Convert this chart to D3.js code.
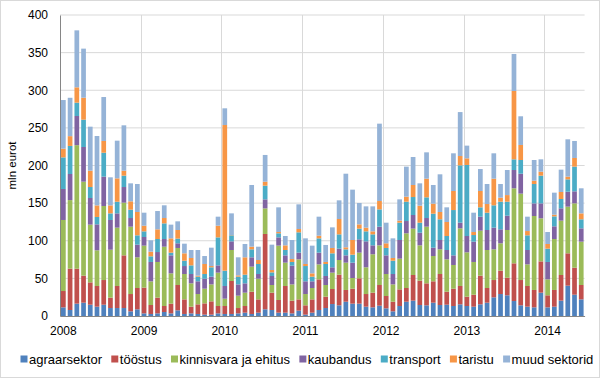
<!DOCTYPE html>
<html>
<head>
<meta charset="utf-8">
<script src="https://cdn.jsdelivr.net/npm/d3@7"></script>
<style>
  body { margin: 0; background: #fff; }
  svg { display: block; font-family: "Liberation Sans", Arial, sans-serif; }
</style>
</head>
<body>
<div id="container"></div>
<script>
// andmed (mln eurot), jaanuar 2008 – juuni 2014
const years = ["2008", "2009", "2010", "2011", "2012", "2013", "2014"];
const seriesNames = ["agraarsektor", "tööstus", "kinnisvara ja ehitus", "kaubandus", "transport", "taristu", "muud sektorid"];
const colors = ["#4F81BD", "#C0504D", "#9BBB59", "#8064A2", "#4BACC6", "#F79646", "#95B3D7"];
const yTicks = [0, 50, 100, 150, 200, 250, 300, 350, 400];

const agraarsektor = [11.5,8.0,16.4,17.7,15.0,12.4,15.0,10.6,10.6,10.6,6.2,8.9, 3.5,2.7,3.5,5.3,3.5,7.5,2.7,3.5,2.7,1.8,1.8,3.5, 2.7,2.7,3.5,4.4,2.7,4.4,8.9,8.0,4.4,4.4,3.5,7.1, 1.8,4.4,8.0,10.6,15.9,14.2,19.0,16.4,16.4,12.4,11.5,13.7, 10.2,6.2,13.3,19.0,20.4,14.6,14.2,17.7,14.6,15.0,13.3,15.5, 13.3,12.4,15.5,17.7,24.8,29.2,27.5,19.9,14.2,12.4,11.5,31.0, 11.5,12.4,20.4,40.3,28.3,22.1];
const toostus = [21.7,54.9,46.5,35.9,29.7,27.5,32.8,13.8,29.3,70.0,23.0,28.3, 34.2,11.9,20.9,8.0,12.9,33.7,19.4,8.9,12.8,15.0,17.7,9.8, 10.6,43.8,7.1,8.9,29.6,17.7,100.1,23.0,16.9,35.5,16.9,15.0, 12.4,17.7,40.7,15.1,20.0,40.7,15.6,19.9,33.7,16.8,19.5,27.5, 16.4,12.8,22.1,18.2,34.1,32.4,29.2,28.4,41.2,17.3,23.0,24.4, 12.4,15.9,38.1,19.5,23.0,31.0,23.4,50.1,33.6,27.5,23.1,41.6, 16.0,22.2,34.1,43.0,35.9,19.1];
const kinnisvara = [94.4,91.1,164.1,124.9,76.7,47.4,98.4,63.7,77.5,70.0,89.5,40.8, 55.8,31.4,47.4,78.8,40.3,49.2,33.7,31.0,13.7,19.5,22.5,44.3, 9.7,41.2,16.4,17.7,33.3,27.5,34.0,10.2,72.2,31.0,21.6,53.2, 15.0,15.1,19.9,15.5,21.7,19.5,36.3,14.2,34.1,35.5,51.0,52.7, 29.2,23.0,40.8,72.7,61.6,46.9,75.3,33.6,32.8,43.0,31.5,76.6, 58.9,43.5,59.8,50.5,40.8,36.4,63.4,99.7,114.8,28.7,98.3,57.2, 21.2,67.7,72.2,62.0,85.5,57.6];
const kaubandus = [41.2,34.7,38.8,46.1,35.4,34.5,39.0,39.5,19.0,20.8,11.5,16.8, 11.5,25.8,13.2,10.2,23.9,6.2,10.6,12.4,16.9,13.3,10.3,9.7, 16.9,11.5,15.0,12.4,12.4,6.2,12.0,12.0,11.0,9.7,24.9,8.9, 16.9,8.9,15.6,12.0,7.1,15.1,9.7,20.4,17.7,34.5,11.9,24.8, 24.8,13.8,24.8,16.3,18.1,16.8,11.5,11.1,12.4,12.4,12.8,7.5, 21.7,27.0,18.6,26.6,28.8,18.6,19.0,24.3,26.5,19.1,16.8,19.9, 23.1,16.9,16.4,19.9,16.0,17.7];
const transport = [42.0,37.3,17.7,36.3,14.6,9.8,31.8,8.8,15.5,15.1,11.1,12.4, 7.5,7.5,17.3,20.8,3.6,6.2,7.1,11.5,6.2,6.2,12.4,37.2, 20.3,8.0,10.3,11.5,10.6,13.3,18.2,4.8,5.4,7.1,4.9,27.0, 20.3,6.2,19.0,15.9,18.6,19.0,8.0,10.6,14.2,13.3,14.6,23.0, 9.8,17.7,23.0,25.7,23.9,13.3,27.5,45.2,27.5,18.6,60.2,76.2, 94.4,8.8,12.4,23.0,29.7,36.7,18.6,14.2,18.2,19.5,25.7,36.8, 17.7,13.2,12.4,16.4,32.8,12.0];
const taristu = [11.6,13.0,20.4,29.2,21.7,15.4,15.6,10.6,31.0,6.6,11.1,31.0, 7.5,6.2,12.9,7.1,19.0,11.5,9.8,9.8,1.3,13.3,1.7,15.5, 193.6,0.4,1.7,23.1,3.5,5.3,5.3,3.1,1.7,6.2,3.9,4.4, 2.7,4.4,3.5,2.7,7.1,20.4,2.7,19.5,5.7,4.9,4.0,11.1, 6.2,3.6,2.7,6.7,16.0,22.6,24.8,13.3,9.7,18.6,25.3,12.4, 8.8,4.0,21.7,11.5,35.4,5.4,8.8,90.8,20.0,5.7,4.4,5.3, 6.2,2.2,9.3,3.6,11.5,7.9];
const muud = [64.6,51.0,75.7,65.2,58.5,92.2,58.4,37.3,50.1,60.3,23.9,37.2, 17.3,15.1,24.3,16.9,18.2,11.5,12.8,10.6,34.1,10.6,24.4,12.0, 22.2,28.8,24.0,17.7,82.0,17.7,35.5,33.7,32.8,12.4,25.3,32.8, 34.1,36.8,25.3,22.6,27.4,24.8,97.8,66.9,28.4,28.3,33.2,102.8, 27.4,26.1,28.3,39.9,37.2,29.7,35.0,24.8,50.1,19.5,50.1,58.4, 16.9,25.7,29.2,26.6,33.7,18.1,33.3,49.2,38.1,19.1,27.5,16.4, 15.9,29.3,29.7,49.6,22.6,33.3];

const seriesValues = [agraarsektor, toostus, kinnisvara, kaubandus, transport, taristu, muud];

// mõõdud
const width = 600, height = 378;
const marginTop = 15, marginRight = 15.4, marginBottom = 62, marginLeft = 60;

// kuud: "2008-01" ... "2014-06"
const months = d3.range(agraarsektor.length).map(
  (i) => `${years[Math.floor(i / 12)]}-${String((i % 12) + 1).padStart(2, "0")}`
);

const table = months.map((m, i) => {
  const row = { month: m };
  seriesNames.forEach((s, k) => (row[s] = seriesValues[k][i]));
  return row;
});

const stacked = d3.stack().keys(seriesNames)(table);

const svg = d3.select("#container").append("svg")
  .attr("width", width)
  .attr("height", height)
  .attr("viewBox", [0, 0, width, height]);

// välimine raam
svg.append("rect")
  .attr("x", 0.5).attr("y", 0.5)
  .attr("width", width - 1).attr("height", height - 1)
  .attr("fill", "#fff")
  .attr("stroke", "#d9d9d9");

const xScale = d3.scaleBand(months, [marginLeft, width - marginRight]).paddingInner(0.3).paddingOuter(0.15);
const yScale = d3.scaleLinear([0, 400], [height - marginBottom, marginTop]);

// horisontaalsed abijooned
svg.append("g")
  .selectAll("line")
  .data(yTicks.slice(1))
  .join("line")
  .attr("x1", marginLeft)
  .attr("x2", width - marginRight)
  .attr("y1", (d) => yScale(d))
  .attr("y2", (d) => yScale(d))
  .attr("stroke", "#d9d9d9")
  .attr("stroke-width", 1);

// vertikaalsed abijooned aastate piiril
const yearStarts = years.map((y) => `${y}-01`);
const bandLeft = (m) => xScale(m) - (xScale.step() * xScale.paddingInner()) / 2;

svg.append("g")
  .selectAll("line")
  .data(yearStarts.slice(1))
  .join("line")
  .attr("x1", (m) => Math.round(bandLeft(m)) + 0.5)
  .attr("x2", (m) => Math.round(bandLeft(m)) + 0.5)
  .attr("y1", marginTop)
  .attr("y2", height - marginBottom)
  .attr("stroke", "#d9d9d9");

// tulbad
svg.append("g")
  .selectAll("g")
  .data(stacked)
  .join("g")
  .attr("fill", (d, i) => colors[i])
  .selectAll("rect")
  .data((d) => d)
  .join("rect")
  .attr("x", (d) => xScale(d.data.month))
  .attr("width", xScale.bandwidth())
  .attr("y", (d) => yScale(d[1]))
  .attr("height", (d) => Math.max(0, yScale(d[0]) - yScale(d[1])));

// y-telg
const yAxis = d3.axisLeft(yScale).tickValues(yTicks).tickSize(0).tickPadding(12);
svg.append("g")
  .attr("transform", `translate(${marginLeft},0)`)
  .call(yAxis)
  .call((g) => g.select(".domain").attr("stroke", "#868686"))
  .call((g) => g.selectAll("text").attr("font-size", 12).attr("fill", "#000").attr("font-family", "Liberation Sans, Arial, sans-serif"));

// x-telg
const xAxis = d3.axisBottom(xScale)
  .tickValues(yearStarts)
  .tickFormat((m) => m.slice(0, 4))
  .tickSize(0)
  .tickPadding(10);

svg.append("g")
  .attr("transform", `translate(0,${height - marginBottom})`)
  .call(xAxis)
  .call((g) => g.select(".domain").attr("stroke", "#868686"))
  .call((g) => g.selectAll("text").attr("font-size", 12).attr("fill", "#000").attr("font-family", "Liberation Sans, Arial, sans-serif"));

// telje pealkiri
svg.append("text")
  .attr("transform", `translate(16,${(marginTop + height - marginBottom) / 2}) rotate(-90)`)
  .attr("text-anchor", "middle")
  .attr("font-size", 11.5)
  .attr("fill", "#000")
  .text("mln eurot");

// legend
const legend = svg.append("g")
  .attr("transform", `translate(20.5,${height - 19})`)
  .attr("font-size", 13);

let lx = 0;
seriesNames.forEach((name, i) => {
  const item = legend.append("g").attr("transform", `translate(${lx},0)`);
  item.append("rect")
    .attr("x", 0).attr("y", -3.5)
    .attr("width", 7).attr("height", 7)
    .attr("fill", colors[i]);
  const t = item.append("text")
    .attr("x", 8.5)
    .attr("dy", "0.35em")
    .attr("fill", "#000")
    .text(name);
  lx += 8.5 + t.node().getComputedTextLength() + 9.3;
});
</script>
</body>
</html>
